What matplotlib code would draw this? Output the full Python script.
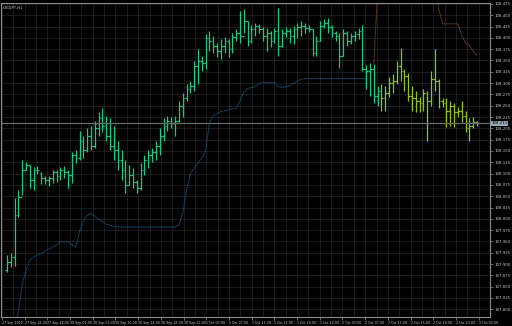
import numpy as np
import matplotlib
matplotlib.use("Agg")
import matplotlib.pyplot as plt

title = "USDJPY,H1"

# OHLC bars (price)
opens = [107.887, 107.904, 107.916, 108.008, 108.048, 108.107, 108.118, 108.085, 108.107, 108.101,
         108.090, 108.085, 108.090, 108.103, 108.094, 108.107, 108.103, 108.096, 108.140, 108.134,
         108.173, 108.151, 108.184, 108.162, 108.200, 108.222, 108.206, 108.184, 108.162, 108.151,
         108.129, 108.107, 108.074, 108.096, 108.081, 108.068, 108.107, 108.129, 108.140, 108.147,
         108.162, 108.184, 108.206, 108.217, 108.211, 108.217, 108.250, 108.266, 108.288, 108.294,
         108.338, 108.349, 108.345, 108.400, 108.393, 108.383, 108.371, 108.383, 108.393, 108.376,
         108.402, 108.411, 108.405, 108.438, 108.393, 108.420, 108.427, 108.420, 108.405, 108.411,
         108.393, 108.416, 108.383, 108.411, 108.416, 108.405, 108.420, 108.424, 108.427, 108.422,
         108.420, 108.367, 108.393, 108.427, 108.433, 108.424, 108.411, 108.405, 108.360, 108.411,
         108.393, 108.405, 108.409, 108.416, 108.332, 108.327, 108.332, 108.272, 108.283, 108.266,
         108.279, 108.301, 108.305, 108.338, 108.327, 108.316, 108.272, 108.266, 108.261, 108.257,
         108.279, 108.261, 108.310, 108.305, 108.261, 108.257, 108.239, 108.250, 108.235, 108.239,
         108.228, 108.200, 108.206, 108.213]
highs = [107.920, 107.924, 108.045, 108.063, 108.129, 108.125, 108.120, 108.114, 108.116, 108.103,
         108.094, 108.094, 108.109, 108.109, 108.114, 108.116, 108.107, 108.147, 108.151, 108.195,
         108.184, 108.200, 108.206, 108.217, 108.235, 108.244, 108.228, 108.222, 108.206, 108.173,
         108.151, 108.129, 108.118, 108.112, 108.085, 108.123, 108.140, 108.151, 108.156, 108.173,
         108.200, 108.222, 108.228, 108.224, 108.228, 108.261, 108.277, 108.299, 108.305, 108.349,
         108.376, 108.360, 108.409, 108.416, 108.405, 108.389, 108.398, 108.402, 108.398, 108.411,
         108.420, 108.460, 108.464, 108.438, 108.429, 108.433, 108.431, 108.424, 108.422, 108.416,
         108.422, 108.466, 108.420, 108.424, 108.422, 108.427, 108.433, 108.438, 108.433, 108.429,
         108.420, 108.405, 108.438, 108.442, 108.444, 108.429, 108.416, 108.411, 108.420, 108.416,
         108.411, 108.416, 108.422, 108.429, 108.341, 108.345, 108.343, 108.294, 108.297, 108.294,
         108.314, 108.319, 108.349, 108.378, 108.332, 108.323, 108.294, 108.283, 108.270, 108.288,
         108.283, 108.327, 108.376, 108.310, 108.266, 108.266, 108.261, 108.257, 108.248, 108.261,
         108.239, 108.222, 108.224, 108.217]
lows = [107.882, 107.893, 107.896, 108.004, 108.052, 108.107, 108.068, 108.063, 108.098, 108.076,
        108.076, 108.072, 108.079, 108.081, 108.085, 108.090, 108.068, 108.079, 108.123, 108.129,
        108.134, 108.147, 108.151, 108.156, 108.184, 108.191, 108.173, 108.151, 108.129, 108.107,
        108.085, 108.057, 108.074, 108.068, 108.057, 108.063, 108.096, 108.112, 108.125, 108.129,
        108.140, 108.173, 108.195, 108.200, 108.184, 108.213, 108.224, 108.261, 108.279, 108.283,
        108.299, 108.327, 108.332, 108.371, 108.367, 108.358, 108.354, 108.367, 108.358, 108.367,
        108.393, 108.389, 108.411, 108.383, 108.389, 108.405, 108.411, 108.393, 108.371, 108.380,
        108.389, 108.360, 108.380, 108.402, 108.389, 108.387, 108.400, 108.405, 108.411, 108.413,
        108.360, 108.360, 108.393, 108.422, 108.411, 108.402, 108.393, 108.334, 108.360, 108.383,
        108.387, 108.393, 108.398, 108.327, 108.288, 108.272, 108.257, 108.250, 108.239, 108.239,
        108.270, 108.279, 108.297, 108.305, 108.283, 108.261, 108.239, 108.235, 108.235, 108.239,
        108.173, 108.250, 108.283, 108.244, 108.248, 108.202, 108.206, 108.202, 108.226, 108.213,
        108.191, 108.173, 108.200, 108.206]
closes = [107.904, 107.916, 108.008, 108.048, 108.107, 108.118, 108.085, 108.107, 108.109, 108.090,
          108.085, 108.090, 108.103, 108.094, 108.107, 108.103, 108.096, 108.140, 108.134, 108.173,
          108.151, 108.184, 108.162, 108.200, 108.222, 108.206, 108.184, 108.162, 108.151, 108.129,
          108.107, 108.074, 108.096, 108.081, 108.068, 108.107, 108.129, 108.140, 108.147, 108.162,
          108.184, 108.206, 108.217, 108.211, 108.217, 108.250, 108.266, 108.288, 108.294, 108.338,
          108.349, 108.345, 108.400, 108.393, 108.383, 108.371, 108.383, 108.393, 108.376, 108.402,
          108.411, 108.405, 108.438, 108.393, 108.420, 108.427, 108.420, 108.405, 108.411, 108.393,
          108.416, 108.383, 108.411, 108.416, 108.405, 108.420, 108.424, 108.427, 108.422, 108.420,
          108.367, 108.393, 108.427, 108.433, 108.424, 108.411, 108.405, 108.360, 108.411, 108.393,
          108.405, 108.409, 108.416, 108.332, 108.327, 108.332, 108.272, 108.283, 108.266, 108.279,
          108.301, 108.305, 108.338, 108.327, 108.316, 108.272, 108.266, 108.261, 108.257, 108.279,
          108.261, 108.310, 108.305, 108.261, 108.257, 108.239, 108.250, 108.235, 108.239, 108.228,
          108.200, 108.206, 108.213, 108.211]

# first bar drawn in the second colour
split_bar = 98

# lower trailing line (teal) and upper line (brown), NaN where absent
nan = np.nan
lower_line = ([nan, nan, 107.760, 107.794, 107.854, 107.887, 107.909, 107.916, 107.920, 107.924,
               107.929, 107.933, 107.938, 107.942, 107.949, 107.949, 107.949, 107.942, 107.938, 107.971,
               107.995, 108.008, 108.012, 108.006, 107.999, 107.993, 107.988, 107.986, 107.984]
              + [107.982] * 16
              + [107.986, 108.012, 108.063, 108.101, 108.112, 108.123, 108.134, 108.151, 108.213, 108.228,
                 108.233, 108.237, 108.239, 108.241, 108.244, 108.244, 108.261, 108.281, 108.288, 108.290,
                 108.292, 108.299, 108.301, 108.301, 108.301, 108.301, 108.292, 108.290, 108.292, 108.294,
                 108.299, 108.305, 108.308]
              + [108.310] * 17
              + [nan] * 29)
upper_line = ([nan] * 96
              + [108.343, 108.500]
              + [108.520] * 15
              + [108.464, 108.431, 108.431, 108.431, 108.431, 108.431, 108.405, 108.389, 108.383,
                 108.371, 108.360])

price_ticks = [round(108.475 - 0.025 * k, 3) for k in range(28)]
time_labels = ["27 Sep 2019", "27 Sep 18:00", "27 Sep 22:00", "30 Sep 02:00", "30 Sep 06:00",
               "30 Sep 10:00", "30 Sep 14:00", "30 Sep 18:00", "30 Sep 22:00", "1 Oct 03:00",
               "1 Oct 07:00", "1 Oct 11:00", "1 Oct 15:00", "1 Oct 19:00", "1 Oct 23:00",
               "2 Oct 03:00", "2 Oct 07:00", "2 Oct 11:00", "2 Oct 15:00", "2 Oct 19:00",
               "2 Oct 23:00", "3 Oct 03:00"]

green = "#22c77f"
yellow = "#8ec41c"
gridc = "#34404c"
axisc = "#8a8a8a"
textc = "#c8c8c8"

fig = plt.figure(figsize=(5.12, 3.26), dpi=100, facecolor="black")
ax = fig.add_axes([1 / 512, 9 / 326, 489 / 512, 314 / 326])
ax.set_facecolor("black")

n = len(closes)
x = np.arange(n)
cols = [green if i < split_bar else yellow for i in range(n)]

ax.vlines(x, lows, highs, colors=cols, lw=0.9)
ax.hlines(opens, x - 0.45, x, colors=cols, lw=0.9)
ax.hlines(closes, x, x + 0.45, colors=cols, lw=0.9)

ax.plot(x, lower_line, color="#1a5874", lw=0.8, ls=(0, (1, 0.6)))
ax.plot(x, upper_line, color="#7a4526", lw=0.8, ls=(0, (1, 0.6)))

# current price line
ax.axhline(closes[-1], color="#6a6a6a", lw=0.9)

ax.set_xlim(-1.55, 124.8)
ax.set_ylim(107.783, 108.477)

step = 5.94
xt = [-1.3 + step * k for k in range(len(time_labels))]
ax.set_xticks(xt)
ax.set_xticklabels(time_labels, fontsize=2.3, color=textc, ha="left")
ax.set_xticks([-1.3 + step * k + step / 2 for k in range(len(time_labels))], minor=True)
ax.set_yticks(price_ticks)
ax.set_yticklabels([f"{p:.3f}" for p in price_ticks], fontsize=2.8, color=textc)
ax.yaxis.tick_right()
ax.tick_params(axis="both", which="both", length=2, width=0.5, color=axisc, pad=1)
ax.tick_params(axis="x", which="minor", length=0)

ax.grid(True, which="both", color=gridc, ls=(0, (1.2, 1.2)), lw=0.6)
ax.set_axisbelow(True)
for s in ax.spines.values():
    s.set_color(axisc)
    s.set_linewidth(0.8)

# highlighted current price label
ax.text(1.003, closes[-1], f"{closes[-1]:.3f}", transform=ax.get_yaxis_transform(),
        fontsize=2.8, color="black", va="center", ha="left",
        bbox=dict(boxstyle="square,pad=0.2", fc="#9aa8b8", ec="none"), clip_on=False)

ax.text(0.004, 0.992, title, transform=ax.transAxes, fontsize=2.8, color=textc,
        va="top", ha="left")

fig.savefig("out.png", dpi=100, facecolor="black")
